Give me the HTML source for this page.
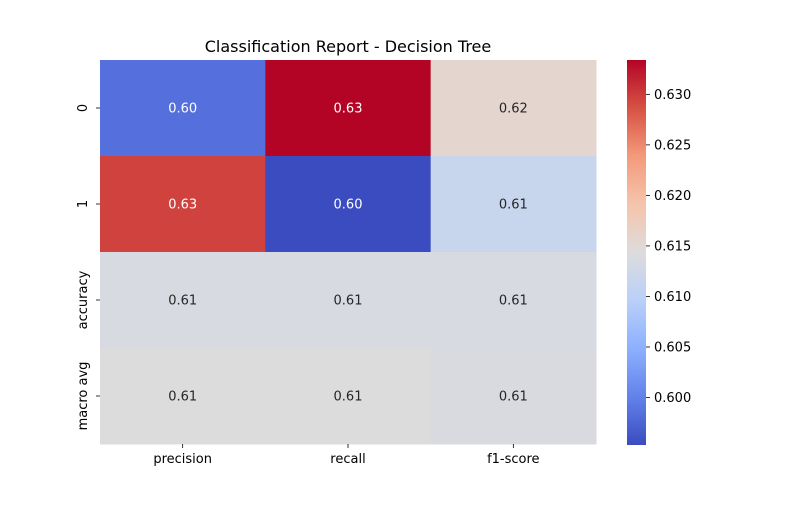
<!DOCTYPE html>
<html><head><meta charset="utf-8"><style>
body{margin:0;background:#fff;font-family:"Liberation Sans","DejaVu Sans",sans-serif;}
svg text{font-family:"DejaVu Sans","Liberation Sans",sans-serif;}
</style></head><body>
<svg id="chart" width="800" height="500" viewBox="0 0 800 500">
<defs><linearGradient id="cbgrad" x1="0" y1="1" x2="0" y2="0">
<stop offset="0" stop-color="#3b4cc0"/><stop offset="0.125" stop-color="#6282ea"/><stop offset="0.25" stop-color="#8db0fe"/><stop offset="0.375" stop-color="#b9d0f9"/><stop offset="0.5" stop-color="#dddcdc"/><stop offset="0.625" stop-color="#f5c4ac"/><stop offset="0.75" stop-color="#f49a7b"/><stop offset="0.875" stop-color="#d65244"/><stop offset="1" stop-color="#b40426"/>
</linearGradient></defs>
<text x="348" y="52" text-anchor="middle" font-size="16" fill="#000">Classification Report - Decision Tree</text>
<g id="cells"></g>
<rect x="627" y="60" width="19" height="385" fill="url(#cbgrad)"/>
<g id="cbticks"></g>
</svg>
<script>
const rows = ["0","1","accuracy","macro avg"];
const cols = ["precision","recall","f1-score"];
const row0 = [0.5985, 0.6334, 0.6157];
const row1 = [0.6296, 0.5953, 0.6115];
const rowAcc = [0.6135, 0.6135, 0.6135];
const rowMacro = [0.6143, 0.6143, 0.6137];
const values = [row0,row1,rowAcc,rowMacro];
const cbTicks = [0.600,0.605,0.610,0.615,0.620,0.625,0.630];
const vmin = 0.5953, vmax = 0.6334;

const X0=100, X1=596, Y0=60, Y1=444;
const cw=(X1-X0)/cols.length, rh=(Y1-Y0)/rows.length;
const xCell=i=>X0+i*cw, yCell=j=>Y0+j*rh;
const CB0=60, CB1=445;
const yCb=v=>CB1-(v-vmin)/(vmax-vmin)*(CB1-CB0);
const stops=["#3b4cc0","#6282ea","#8db0fe","#b9d0f9","#dddcdc","#f5c4ac","#f49a7b","#d65244","#b40426"].map(h=>[1,3,5].map(k=>parseInt(h.substr(k,2),16)));
function cmap(t){t=Math.max(0,Math.min(1,t));const p=t*8,i=Math.min(7,Math.floor(p)),f=p-i;
 const c=stops[i].map((a,k)=>a+(stops[i+1][k]-a)*f);return c;}
const NS="http://www.w3.org/2000/svg";
const svg=document.getElementById('chart'),g=document.getElementById('cells'),cb=document.getElementById('cbticks');
function mk(tag,attrs,parent){const e=document.createElementNS(NS,tag);for(const k in attrs)e.setAttribute(k,attrs[k]);parent.appendChild(e);return e;}
values.forEach((r,j)=>r.forEach((v,i)=>{
 const c=cmap((v-vmin)/(vmax-vmin));
 const rect=mk('rect',{x:xCell(i),y:yCell(j),width:cw+0.5,height:rh+0.5,fill:`rgb(${c.map(Math.round).join(',')})`},g);
 
 
 const lum=0.299*c[0]+0.587*c[1]+0.114*c[2];
 const t=mk('text',{x:xCell(i)+cw/2,y:yCell(j)+rh/2+4.5,'text-anchor':'middle','font-size':13,fill:lum<140?'#fff':'#262626'},g);
 t.textContent=v.toFixed(2);
 
 
}));
rows.forEach((r,j)=>{
 const y=yCell(j)+rh/2;
 mk('line',{x1:X0-4,x2:X0,y1:y,y2:y,stroke:'#000','stroke-width':0.8},svg);
 const t=mk('text',{x:0,y:0,'text-anchor':'middle','font-size':13,fill:'#000',transform:`translate(${X0-13},${y}) rotate(-90)`},svg);
 t.textContent=r;
 
 
});
cols.forEach((c,i)=>{
 const x=xCell(i)+cw/2;
 mk('line',{x1:x,x2:x,y1:Y1,y2:Y1+4,stroke:'#000','stroke-width':0.8},svg);
 const t=mk('text',{x:x,y:Y1+19,'text-anchor':'middle','font-size':13,fill:'#000'},svg);
 t.textContent=c;
 
 
});
cbTicks.forEach(v=>{
 const y=yCb(v);
 mk('line',{x1:646,x2:650,y1:y,y2:y,stroke:'#000','stroke-width':0.8},cb);
 const t=mk('text',{x:654,y:y+4.5,'font-size':13,fill:'#000'},cb);
 t.textContent=v.toFixed(3);
 
 
});
</script>
</body></html>
